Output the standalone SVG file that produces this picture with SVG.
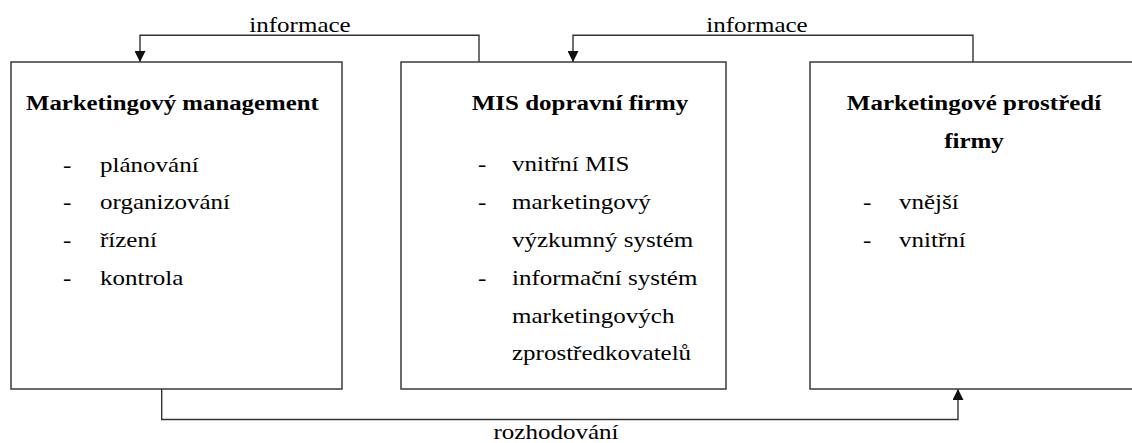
<svg xmlns="http://www.w3.org/2000/svg" width="1132" height="443" viewBox="0 0 1132 443">
<style>
.box{fill:#fff;stroke:#3a3a3a;stroke-width:1.5}
.con{fill:none;stroke:#333;stroke-width:1.4}
text{font-family:"Liberation Serif","Times New Roman",serif;font-size:20.5px;fill:#000}
.t{font-weight:bold}
.m{text-anchor:middle}
</style>
<defs>
<marker id="ah" viewBox="0 0 10 10" refX="10" refY="5" markerWidth="11" markerHeight="11" markerUnits="userSpaceOnUse" orient="auto">
<path d="M0,0 L10,5 L0,10 z" fill="#111"/>
</marker>
</defs>
<rect width="1132" height="443" fill="#fff"/>
<g id="connectors">
<path class="con" d="M479,62 V35.3 H140 V62" marker-end="url(#ah)"/>
<path class="con" d="M973,62 V35.3 H573 V62" marker-end="url(#ah)"/>
<path class="con" d="M161.7,389 V419.5 H958 V389" marker-end="url(#ah)"/>
<text class="m" transform="translate(300,32) scale(1.22,1)">informace</text>
<text class="m" transform="translate(757,32) scale(1.22,1)">informace</text>
<text class="m" transform="translate(556,439) scale(1.22,1)">rozhodování</text>
</g>
<g id="marketingovy-management">
<rect class="box" x="11" y="62" width="331" height="327"/>
<text class="t" transform="translate(26,110) scale(1.21,1)">Marketingový management</text>
<text transform="translate(63,171.5) scale(1.22,1)">-</text>
<text transform="translate(100,171.5) scale(1.22,1)">plánování</text>
<text transform="translate(63,209) scale(1.22,1)">-</text>
<text transform="translate(100,209) scale(1.22,1)">organizování</text>
<text transform="translate(63,247) scale(1.22,1)">-</text>
<text transform="translate(100,247) scale(1.22,1)">řízení</text>
<text transform="translate(63,285) scale(1.22,1)">-</text>
<text transform="translate(100,285) scale(1.22,1)">kontrola</text>
</g>
<g id="mis-dopravni-firmy">
<rect class="box" x="401" y="62" width="325" height="327"/>
<text class="t m" transform="translate(580,110) scale(1.22,1)">MIS dopravní firmy</text>
<text transform="translate(478,171) scale(1.22,1)">-</text>
<text transform="translate(512,171) scale(1.22,1)">vnitřní MIS</text>
<text transform="translate(478,209) scale(1.22,1)">-</text>
<text transform="translate(512,209) scale(1.22,1)">marketingový</text>
<text transform="translate(512,247) scale(1.22,1)">výzkumný systém</text>
<text transform="translate(478,285) scale(1.22,1)">-</text>
<text transform="translate(512,285) scale(1.22,1)">informační systém</text>
<text transform="translate(512,322.5) scale(1.22,1)">marketingových</text>
<text transform="translate(512,360) scale(1.22,1)">zprostředkovatelů</text>
</g>
<g id="marketingove-prostredi">
<rect class="box" x="810" y="62" width="326" height="327"/>
<text class="t m" transform="translate(974,110) scale(1.22,1)">Marketingové prostředí</text>
<text class="t m" transform="translate(974,147.5) scale(1.22,1)">firmy</text>
<text transform="translate(863,209) scale(1.22,1)">-</text>
<text transform="translate(899,209) scale(1.22,1)">vnější</text>
<text transform="translate(863,247) scale(1.22,1)">-</text>
<text transform="translate(899,247) scale(1.22,1)">vnitřní</text>
</g>
</svg>
